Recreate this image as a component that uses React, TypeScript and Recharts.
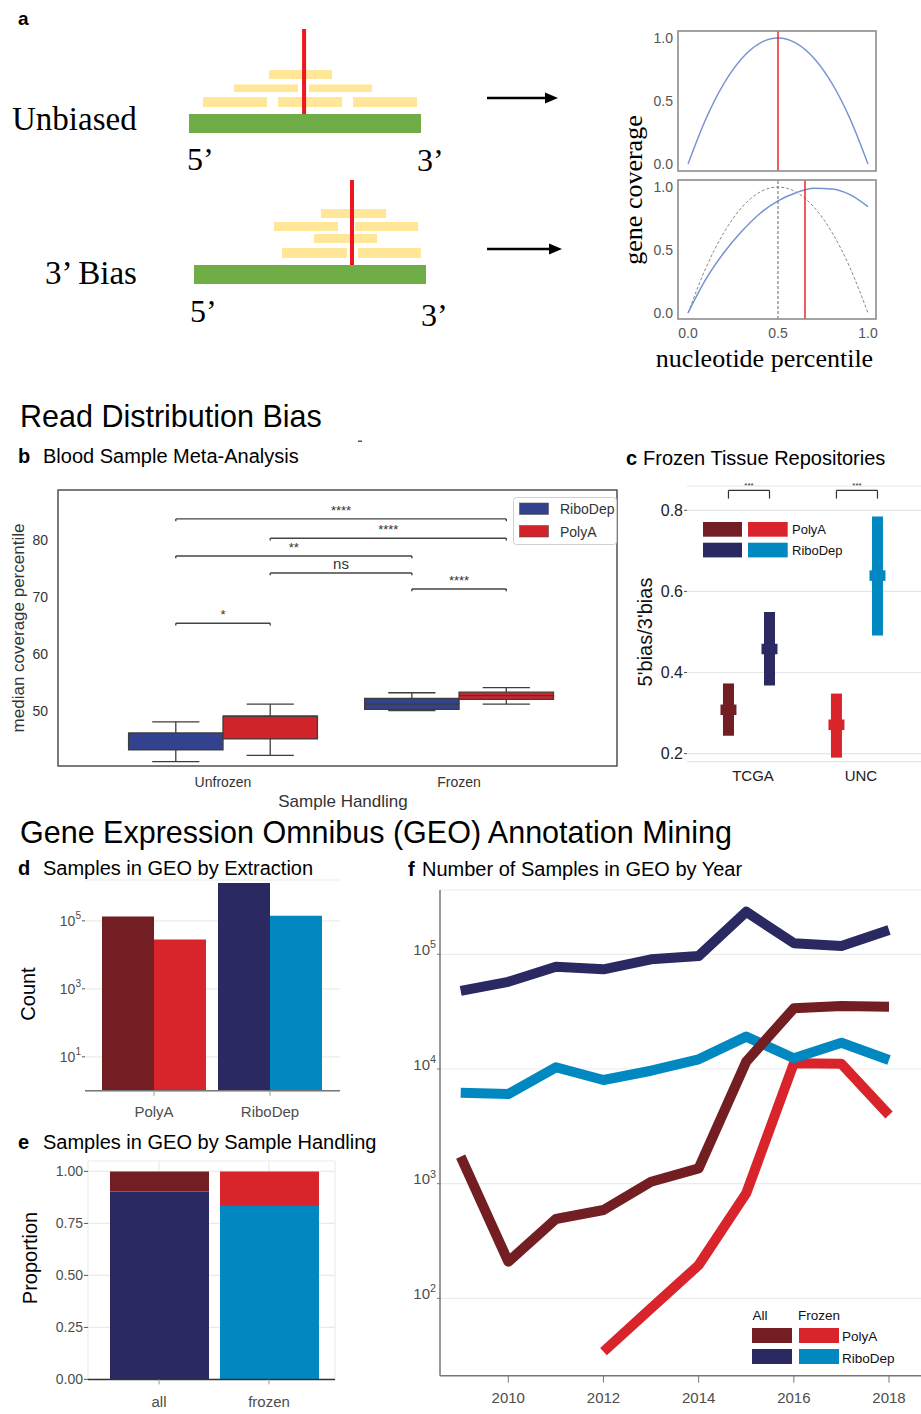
import React from 'react';
import {
  ComposedChart,
  LineChart,
  BarChart,
  Line,
  Bar,
  XAxis,
  YAxis,
  CartesianGrid,
  ReferenceArea,
  ReferenceLine,
  Cell,
} from 'recharts';

const SANS = "'Liberation Sans', Arial, Helvetica, sans-serif";
const SERIF = "'Liberation Serif', 'Times New Roman', Times, serif";

const DARKRED = '#721e23';
const RED = '#d9242b';
const NAVY = '#2a2962';
const BLUE = '#0288c1';
const B_BLUE = '#33428e';
const B_RED = '#d0232a';
const GENE_GREEN = '#70ad47';
const READ_YELLOW = '#ffe699';
const MARK_RED = '#f0161e';
const CURVE_BLUE = '#7594cf';
const TICK_GREY = '#4d4d4d';

// ---------- panel a : read diagrams (gene position in %, stack height in rows) ----------
const unbiasedReads = [
  { start: 34.5, end: 61.6, bottom: 2.5, top: 3.14 },
  { start: 19.4, end: 47.0, bottom: 1.57, top: 2.1 },
  { start: 51.7, end: 78.9, bottom: 1.57, top: 2.1 },
  { start: 6.0, end: 33.6, bottom: 0.5, top: 1.21 },
  { start: 38.4, end: 66.0, bottom: 0.5, top: 1.21 },
  { start: 70.7, end: 98.3, bottom: 0.5, top: 1.21 },
];
const unbiasedCenter = 49.6;
const biasReads = [
  { start: 54.7, end: 82.8, bottom: 3.36, top: 4.0 },
  { start: 34.5, end: 62.1, bottom: 2.43, top: 3.07 },
  { start: 69.4, end: 96.6, bottom: 2.43, top: 3.07 },
  { start: 51.7, end: 78.9, bottom: 1.57, top: 2.21 },
  { start: 37.9, end: 65.9, bottom: 0.5, top: 1.21 },
  { start: 70.7, end: 97.8, bottom: 0.5, top: 1.21 },
];
const biasCenter = 68.1;
const geneLength = 100;
const geneThickness = 1.36;
const markerHeight = 6.07;

// ---------- panel a : coverage curves ----------
const coverageX = [0, 0.1, 0.2, 0.3, 0.4, 0.5, 0.6, 0.7, 0.8, 0.9, 1.0];
const unbiasedCoverage = [0, 0.36, 0.64, 0.84, 0.96, 1.0, 0.96, 0.84, 0.64, 0.36, 0];
const biasedCoverage = [0, 0.27, 0.48, 0.65, 0.79, 0.89, 0.955, 0.99, 0.985, 0.94, 0.845];
const coverageTicks = [0, 0.5, 1];
const unbiasedMedian = 0.5;
const biasedMedian = 0.65;

// ---------- panel b ----------
const bGroups = ['Unfrozen', 'Frozen'];
const bRiboDep = [
  { lo: 41.1, q1: 43.2, med: 46.1, q3: 46.1, hi: 48.1 },
  { lo: 50.05, q1: 50.3, med: 51.2, q3: 52.2, hi: 53.2 },
];
const bPolyA = [
  { lo: 42.2, q1: 45.1, med: 49.1, q3: 49.1, hi: 51.2 },
  { lo: 51.2, q1: 52.05, med: 52.7, q3: 53.3, hi: 54.1 },
];
const bTicks = [50, 60, 70, 80];
// s: 0 = RiboDep, 1 = PolyA
const bBrackets = [
  { g1: 0, s1: 0, g2: 1, s2: 1, y: 83.7, label: '****' },
  { g1: 0, s1: 1, g2: 1, s2: 1, y: 80.3, label: '****' },
  { g1: 0, s1: 0, g2: 1, s2: 0, y: 77.2, label: '**' },
  { g1: 0, s1: 1, g2: 1, s2: 0, y: 74.2, label: 'ns' },
  { g1: 1, s1: 0, g2: 1, s2: 1, y: 71.4, label: '****' },
  { g1: 0, s1: 0, g2: 0, s2: 1, y: 65.4, label: '*' },
];

// ---------- panel c ----------
const cGroups = ['TCGA', 'UNC'];
const cPolyA = [
  { lo: 0.244, mid: 0.308, hi: 0.373 },
  { lo: 0.19, mid: 0.271, hi: 0.348 },
];
const cRiboDep = [
  { lo: 0.368, mid: 0.458, hi: 0.549 },
  { lo: 0.491, mid: 0.639, hi: 0.785 },
];
const cTicks = [0.2, 0.4, 0.6, 0.8];
const cBracketTop = 0.849;
const cBracketEnd = 0.829;
const cBracketLabel = '***';

// ---------- panel d ----------
const dCategories = ['PolyA', 'RiboDep'];
const dAll = [134000, 1290000];
const dFrozen = [28000, 140000];
const dTicks = [10, 1000, 100000];

// ---------- panel e ----------
const eCategories = ['all', 'frozen'];
const eRiboDep = [0.903, 0.834];
const ePolyA = [0.097, 0.166];
const eTicks = [0, 0.25, 0.5, 0.75, 1];

// ---------- panel f ----------
const fYears = [2009, 2010, 2011, 2012, 2013, 2014, 2015, 2016, 2017, 2018];
const fPolyAAll = [1720, 209, 492, 590, 1040, 1360, 11600, 33800, 35400, 34900];
const fRiboDepAll = [48000, 57600, 78000, 74000, 90400, 96600, 235000, 125000, 118000, 163000];
const fPolyAFrozen = [null, null, null, 34.3, 82, 195, 824, 11200, 11100, 3970];
const fRiboDepFrozen = [6210, 6050, 10350, 8020, 9660, 12150, 19150, 12400, 16950, 11970];
const fXTicks = [2010, 2012, 2014, 2016, 2018];
const fYTicks = [100, 1000, 10000, 100000];

// ---------- helpers ----------
function frame(px: number, py: number, pw: number, ph: number, yw = 0, xh = 0, pad = 10) {
  const width = pw + yw + 2 * pad;
  const height = ph + xh + 2 * pad;
  return {
    style: { position: 'absolute' as const, left: px - yw - pad, top: py - pad, width, height },
    width,
    height,
    margin: { top: pad, right: pad, bottom: pad, left: pad },
  };
}

const powTick = (fs: number, dy: string) => (props: any) => {
  const { x, y, payload } = props;
  const e = Math.round(Math.log10(payload.value));
  return (
    <text x={x} y={y} dy={dy} textAnchor="end" fontSize={fs} fontFamily={SANS} fill={TICK_GREY}>
      10
      <tspan fontSize={fs * 0.72} dy={-fs * 0.45}>
        {e}
      </tspan>
    </text>
  );
};

function ReadDiagram({ reads, center, px, py }: any) {
  const g = frame(px, py, 232, 126, 0, 0, 4);
  return (
    <div style={g.style}>
      <ComposedChart width={g.width} height={g.height} margin={g.margin} data={reads}>
        <XAxis type="number" dataKey="start" domain={[0, geneLength]} allowDataOverflow hide />
        <YAxis type="number" dataKey="top" domain={[-2, 7]} allowDataOverflow hide />
        <ReferenceArea x1={0} x2={geneLength} y1={-geneThickness} y2={0} fill={GENE_GREEN} fillOpacity={1} ifOverflow="visible" />
        {reads.map((r: any, i: number) => (
          <ReferenceArea key={i} x1={r.start} x2={r.end} y1={r.bottom} y2={r.top} fill={READ_YELLOW} fillOpacity={1} ifOverflow="visible" />
        ))}
        <ReferenceLine
          segment={[{ x: center, y: 0 }, { x: center, y: markerHeight }]}
          stroke={MARK_RED}
          strokeWidth={4}
          ifOverflow="visible"
        />
      </ComposedChart>
    </div>
  );
}

const coverageData = coverageX.map((x, i) => ({ x, unbiased: unbiasedCoverage[i], biased: biasedCoverage[i] }));

function CoverageTop() {
  const g = frame(678, 31, 198, 140, 36, 0, 8);
  return (
    <div style={g.style}>
      <LineChart width={g.width} height={g.height} margin={g.margin} data={coverageData}>
        <XAxis type="number" dataKey="x" domain={[-0.0557, 1.0446]} allowDataOverflow hide />
        <YAxis
          type="number"
          domain={[-0.0556, 1.0556]}
          allowDataOverflow
          ticks={coverageTicks}
          interval={0}
          width={36}
          axisLine={false}
          tickLine={false}
          tickSize={3}
          tickMargin={2}
          tickFormatter={(v: number) => v.toFixed(1)}
          tick={{ fontSize: 14, fill: '#555', fontFamily: SANS }}
        />
        <Line type="monotone" dataKey="unbiased" stroke={CURVE_BLUE} strokeWidth={1.4} dot={false} isAnimationActive={false} />
        <ReferenceLine x={unbiasedMedian} stroke={MARK_RED} strokeWidth={1.4} />
      </LineChart>
    </div>
  );
}

function CoverageBottom() {
  const g = frame(678, 180, 198, 139, 36, 26, 8);
  return (
    <div style={g.style}>
      <LineChart width={g.width} height={g.height} margin={g.margin} data={coverageData}>
        <XAxis
          type="number"
          dataKey="x"
          domain={[-0.0557, 1.0446]}
          allowDataOverflow
          ticks={coverageTicks}
          interval={0}
          height={26}
          axisLine={false}
          tickLine={false}
          tickSize={4}
          tickMargin={5}
          tickFormatter={(v: number) => v.toFixed(1)}
          tick={{ fontSize: 14, fill: '#555', fontFamily: SANS }}
        />
        <YAxis
          type="number"
          domain={[-0.0476, 1.0556]}
          allowDataOverflow
          ticks={coverageTicks}
          interval={0}
          width={36}
          axisLine={false}
          tickLine={false}
          tickSize={3}
          tickMargin={2}
          tickFormatter={(v: number) => v.toFixed(1)}
          tick={{ fontSize: 14, fill: '#555', fontFamily: SANS }}
        />
        <Line type="monotone" dataKey="unbiased" stroke="#8a8a8a" strokeWidth={1} strokeDasharray="3 2" dot={false} isAnimationActive={false} />
        <Line type="monotone" dataKey="biased" stroke={CURVE_BLUE} strokeWidth={1.5} dot={false} isAnimationActive={false} />
        <ReferenceLine x={unbiasedMedian} stroke="#666" strokeWidth={1} strokeDasharray="3 2" />
        <ReferenceLine x={biasedMedian} stroke={MARK_RED} strokeWidth={1.4} />
      </LineChart>
    </div>
  );
}

const bOff = [-0.2, 0.2];
const bPoints = [bRiboDep, bPolyA].flatMap((series, s) =>
  series.flatMap((st, gi) => [
    { x: gi + bOff[s], y: st.lo },
    { x: gi + bOff[s], y: st.hi },
  ])
);

function PanelB() {
  const g = frame(58, 490, 559, 276, 45, 30, 6);
  const hw = 0.2;
  const EDGE = '#3d3d3d';
  const elems: any[] = [];
  [bRiboDep, bPolyA].forEach((series, s) => {
    const fill = s === 0 ? B_BLUE : B_RED;
    series.forEach((st, gi) => {
      const c = gi + bOff[s];
      const cw = hw / 2;
      const k = `${s}-${gi}`;
      elems.push(
        <ReferenceLine key={k + 'wh'} segment={[{ x: c, y: st.q3 }, { x: c, y: st.hi }]} stroke={EDGE} strokeWidth={1.3} />,
        <ReferenceLine key={k + 'wl'} segment={[{ x: c, y: st.lo }, { x: c, y: st.q1 }]} stroke={EDGE} strokeWidth={1.3} />,
        <ReferenceLine key={k + 'ch'} segment={[{ x: c - cw, y: st.hi }, { x: c + cw, y: st.hi }]} stroke={EDGE} strokeWidth={1.3} />,
        <ReferenceLine key={k + 'cl'} segment={[{ x: c - cw, y: st.lo }, { x: c + cw, y: st.lo }]} stroke={EDGE} strokeWidth={1.3} />,
        <ReferenceArea key={k + 'box'} x1={c - hw} x2={c + hw} y1={st.q1} y2={st.q3} fill={fill} fillOpacity={1} stroke={EDGE} strokeWidth={1.3} />,
        <ReferenceLine key={k + 'med'} segment={[{ x: c - hw, y: st.med }, { x: c + hw, y: st.med }]} stroke={EDGE} strokeWidth={1.3} />
      );
    });
  });
  bBrackets.forEach((b, i) => {
    const x1 = b.g1 + bOff[b.s1];
    const x2 = b.g2 + bOff[b.s2];
    const drop = 0.4;
    elems.push(
      <ReferenceLine
        key={'br' + i}
        segment={[{ x: x1, y: b.y }, { x: x2, y: b.y }]}
        stroke="#444"
        strokeWidth={1.4}
        label={{ value: b.label, position: 'top', offset: 4, fontSize: b.label === 'ns' ? 15 : 13, fill: '#333', fontFamily: SANS }}
      />,
      <ReferenceLine key={'bl' + i} segment={[{ x: x1, y: b.y }, { x: x1, y: b.y - drop }]} stroke="#444" strokeWidth={1.4} />,
      <ReferenceLine key={'bm' + i} segment={[{ x: x2, y: b.y }, { x: x2, y: b.y - drop }]} stroke="#444" strokeWidth={1.4} />
    );
  });
  return (
    <div style={g.style}>
      <ComposedChart width={g.width} height={g.height} margin={g.margin} data={bPoints}>
        <XAxis
          type="number"
          dataKey="x"
          domain={[-0.699, 1.669]}
          allowDataOverflow
          ticks={[0, 1]}
          interval={0}
          height={30}
          axisLine={false}
          tickLine={false}
          tickSize={8}
          tickMargin={3}
          tickFormatter={(v: number) => bGroups[v]}
          tick={{ fontSize: 14, fill: '#333', fontFamily: SANS }}
        />
        <YAxis
          type="number"
          dataKey="y"
          domain={[40.35, 88.77]}
          allowDataOverflow
          ticks={bTicks}
          interval={0}
          width={45}
          axisLine={false}
          tickLine={false}
          tickSize={8}
          tickMargin={2}
          tick={{ fontSize: 14, fill: '#333', fontFamily: SANS }}
        />
        {elems}
      </ComposedChart>
    </div>
  );
}

const cOff = [-0.19, 0.19];
const cPoints = [cPolyA, cRiboDep].flatMap((series, s) =>
  series.flatMap((st, gi) => [
    { x: gi + cOff[s], y: st.lo },
    { x: gi + cOff[s], y: st.hi },
  ])
);

function PanelC() {
  const g = frame(687, 486.4, 234, 275.7, 40, 26, 6);
  const colors = [
    [DARKRED, NAVY],
    [RED, BLUE],
  ];
  const bw = 0.051;
  const cbw = 0.074;
  const ch = 0.013;
  const elems: any[] = [];
  [cPolyA, cRiboDep].forEach((series, s) => {
    series.forEach((st, gi) => {
      const c = gi + cOff[s];
      const col = colors[gi][s];
      elems.push(
        <ReferenceArea key={`r${s}${gi}`} x1={c - bw} x2={c + bw} y1={st.lo} y2={st.hi} fill={col} fillOpacity={1} />,
        <ReferenceArea key={`m${s}${gi}`} x1={c - cbw} x2={c + cbw} y1={st.mid - ch} y2={st.mid + ch} fill={col} fillOpacity={1} />
      );
    });
  });
  cGroups.forEach((_, gi) => {
    const x1 = gi + cOff[0];
    const x2 = gi + cOff[1];
    elems.push(
      <ReferenceLine
        key={'cb' + gi}
        segment={[{ x: x1, y: cBracketTop }, { x: x2, y: cBracketTop }]}
        stroke="#333"
        strokeWidth={1.2}
        label={{ value: cBracketLabel, position: 'top', offset: 2, fontSize: 8, fill: '#333', fontFamily: SANS }}
      />,
      <ReferenceLine key={'cl' + gi} segment={[{ x: x1, y: cBracketTop }, { x: x1, y: cBracketEnd }]} stroke="#333" strokeWidth={1.2} />,
      <ReferenceLine key={'cr' + gi} segment={[{ x: x2, y: cBracketTop }, { x: x2, y: cBracketEnd }]} stroke="#333" strokeWidth={1.2} />
    );
  });
  return (
    <div style={g.style}>
      <ComposedChart width={g.width} height={g.height} margin={g.margin} data={cPoints}>
        <CartesianGrid horizontal vertical={false} stroke="#e6e6e6" strokeWidth={1.2} />
        <XAxis
          type="number"
          dataKey="x"
          domain={[-0.574, 1.593]}
          allowDataOverflow
          ticks={[0, 1]}
          interval={0}
          height={26}
          axisLine={false}
          tickLine={false}
          tickSize={5}
          tickMargin={4}
          tickFormatter={(v: number) => cGroups[v]}
          tick={{ fontSize: 15, fill: '#222', fontFamily: SANS, dx: 4 }}
        />
        <YAxis
          type="number"
          dataKey="y"
          domain={[0.18, 0.86]}
          allowDataOverflow
          ticks={cTicks}
          interval={0}
          width={40}
          axisLine={false}
          tickLine={{ stroke: '#555' }}
          tickSize={3}
          tickMargin={1}
          tickFormatter={(v: number) => v.toFixed(1)}
          tick={{ fontSize: 16, fill: '#222', fontFamily: SANS }}
        />
        {elems}
      </ComposedChart>
    </div>
  );
}

const dData = dCategories.map((cat, i) => ({ cat, all: dAll[i], frozen: dFrozen[i] }));
const dAllColors = [DARKRED, NAVY];
const dFrozenColors = [RED, BLUE];

function PanelD() {
  const g = frame(85, 879.9, 255, 210.8, 40, 30, 6);
  return (
    <div style={g.style}>
      <BarChart width={g.width} height={g.height} margin={g.margin} data={dData} barGap={0}>
        <CartesianGrid horizontal vertical={false} stroke="#ebebe6" strokeWidth={1.2} />
        <XAxis
          dataKey="cat"
          padding={{ left: 11, right: 12 }}
          height={30}
          axisLine={{ stroke: '#777', strokeWidth: 1.5 }}
          tickLine={{ stroke: '#999' }}
          tickSize={5}
          tickMargin={11}
          interval={0}
          tick={{ fontSize: 15, fill: TICK_GREY, fontFamily: SANS }}
        />
        <YAxis
          type="number"
          scale="log"
          domain={[1, 1584893]}
          allowDataOverflow
          ticks={dTicks}
          interval={0}
          width={40}
          axisLine={false}
          tickLine={{ stroke: '#555' }}
          tickSize={3}
          tickMargin={1}
          tick={powTick(14, '0.35em')}
        />
        <Bar dataKey="all" barSize={52} isAnimationActive={false}>
          {dData.map((_, i) => (
            <Cell key={i} fill={dAllColors[i]} />
          ))}
        </Bar>
        <Bar dataKey="frozen" barSize={52} isAnimationActive={false}>
          {dData.map((_, i) => (
            <Cell key={i} fill={dFrozenColors[i]} />
          ))}
        </Bar>
      </BarChart>
    </div>
  );
}

const eData = eCategories.map((cat, i) => ({ cat, ribodep: eRiboDep[i], polya: ePolyA[i] }));
const eRiboColors = [NAVY, BLUE];
const ePolyColors = [DARKRED, RED];

function PanelE() {
  const g = frame(88, 1160.6, 247, 218.4, 40, 30, 6);
  return (
    <div style={g.style}>
      <BarChart width={g.width} height={g.height} margin={g.margin} data={eData}>
        <CartesianGrid stroke="#ebebe6" strokeWidth={1.2} />
        <XAxis
          dataKey="cat"
          padding={{ left: 16, right: 11 }}
          height={30}
          axisLine={{ stroke: '#333', strokeWidth: 1.5 }}
          tickLine={{ stroke: '#999' }}
          tickSize={5}
          tickMargin={12}
          interval={0}
          tick={{ fontSize: 15, fill: TICK_GREY, fontFamily: SANS }}
        />
        <YAxis
          type="number"
          domain={[0, 1.05]}
          allowDataOverflow
          ticks={eTicks}
          interval={0}
          width={40}
          axisLine={false}
          tickLine={{ stroke: '#555' }}
          tickSize={4}
          tickMargin={1}
          tickFormatter={(v: number) => v.toFixed(2)}
          tick={{ fontSize: 14, fill: TICK_GREY, fontFamily: SANS }}
        />
        <Bar dataKey="ribodep" stackId="s" barSize={99} isAnimationActive={false}>
          {eData.map((_, i) => (
            <Cell key={i} fill={eRiboColors[i]} />
          ))}
        </Bar>
        <Bar dataKey="polya" stackId="s" barSize={99} isAnimationActive={false}>
          {eData.map((_, i) => (
            <Cell key={i} fill={ePolyColors[i]} />
          ))}
        </Bar>
      </BarChart>
    </div>
  );
}

const fData = fYears.map((year, i) => ({
  year,
  polyAAll: fPolyAAll[i],
  riboDepAll: fRiboDepAll[i],
  polyAFrozen: fPolyAFrozen[i],
  riboDepFrozen: fRiboDepFrozen[i],
}));

function PanelF() {
  const g = frame(440, 890, 481, 485.7, 40, 30, 6);
  const lineProps = { type: 'linear' as const, strokeWidth: 10, dot: false, isAnimationActive: false, strokeLinecap: 'butt' as const, strokeLinejoin: 'round' as const };
  return (
    <div style={g.style}>
      <LineChart width={g.width} height={g.height} margin={g.margin} data={fData}>
        <CartesianGrid horizontal vertical={false} stroke="#ebebeb" strokeWidth={1.2} />
        <XAxis
          type="number"
          dataKey="year"
          domain={[2008.565, 2018.672]}
          allowDataOverflow
          ticks={fXTicks}
          interval={0}
          height={30}
          axisLine={{ stroke: '#777', strokeWidth: 1.5 }}
          tickLine={{ stroke: '#777' }}
          tickSize={7}
          tickMargin={10}
          tick={{ fontSize: 15, fill: TICK_GREY, fontFamily: SANS }}
        />
        <YAxis
          type="number"
          scale="log"
          domain={[21.18, 363700]}
          allowDataOverflow
          ticks={fYTicks}
          interval={0}
          width={40}
          axisLine={{ stroke: '#777', strokeWidth: 1.5 }}
          tickLine={{ stroke: '#777' }}
          tickSize={3}
          tickMargin={1}
          tick={powTick(15, '0.05em')}
        />
        <Line dataKey="polyAFrozen" stroke={RED} {...lineProps} />
        <Line dataKey="riboDepFrozen" stroke={BLUE} {...lineProps} />
        <Line dataKey="polyAAll" stroke={DARKRED} {...lineProps} />
        <Line dataKey="riboDepAll" stroke={NAVY} {...lineProps} />
      </LineChart>
    </div>
  );
}

function Overlay() {
  const t = (x: number, y: number, s: string, fs: number, extra: any = {}) => (
    <text x={x} y={y} fontSize={fs} fontFamily={SANS} fill="#111" {...extra}>
      {s}
    </text>
  );
  const serif = (x: number, y: number, s: string, fs: number, extra: any = {}) => (
    <text x={x} y={y} fontSize={fs} fontFamily={SERIF} fill="#000" {...extra}>
      {s}
    </text>
  );
  return (
    <svg width={921} height={1414} style={{ position: 'absolute', left: 0, top: 0, pointerEvents: 'none' }}>
      {/* panel a */}
      {t(18, 25, 'a', 19, { fontWeight: 'bold', fill: '#000' })}
      {serif(12, 130, 'Unbiased', 33)}
      {serif(187, 170, '5\u2019', 32)}
      {serif(417, 171, '3\u2019', 32)}
      {serif(45, 284, '3\u2019 Bias', 33)}
      {serif(190, 322, '5\u2019', 32)}
      {serif(421, 326, '3\u2019', 32)}
      <line x1={487} y1={98} x2={547} y2={98} stroke="#000" strokeWidth={2.6} />
      <polygon points="545,92.5 558,98 545,103.5" fill="#000" />
      <line x1={487} y1={249} x2={551} y2={249} stroke="#000" strokeWidth={2.6} />
      <polygon points="549,243.5 562,249 549,254.5" fill="#000" />
      <rect x={678} y={31} width={198} height={140} fill="none" stroke="#8c8c8c" strokeWidth={1.6} />
      <rect x={678} y={180} width={198} height={139} fill="none" stroke="#8c8c8c" strokeWidth={1.6} />
      <text transform="translate(633,190) rotate(-90)" textAnchor="middle" dy="0.35em" fontSize={26} fontFamily={SERIF} fill="#000">
        gene coverage
      </text>
      {serif(764.5, 367, 'nucleotide percentile', 26, { textAnchor: 'middle' })}

      {/* section 1 */}
      {t(20, 427, 'Read Distribution Bias', 30.5, { fill: '#000' })}
      {t(18, 463, 'b', 20, { fontWeight: 'bold', fill: '#000' })}
      {t(43, 463, 'Blood Sample Meta-Analysis', 20, { fill: '#000' })}
      <rect x={358} y={440.5} width={4} height={1.5} fill="#555" />
      <rect x={58} y={490} width={559} height={276} fill="none" stroke="#444" strokeWidth={1.4} />
      <text transform="translate(18,628) rotate(-90)" textAnchor="middle" dy="0.35em" fontSize={17} fontFamily={SANS} fill="#333">
        median coverage percentile
      </text>
      {t(343, 806.5, 'Sample Handling', 17, { textAnchor: 'middle', fill: '#333' })}
      <rect x={513.5} y={497.5} width={103} height={47} rx={3} fill="#fff" fillOpacity={0.85} stroke="#d0d0d0" />
      <rect x={519.5} y={503} width={29} height={11.5} fill={B_BLUE} stroke="#555" strokeWidth={0.6} />
      {t(560, 514, 'RiboDep', 14, { fill: '#333' })}
      <rect x={519.5} y={525.5} width={29} height={11.5} fill={B_RED} stroke="#555" strokeWidth={0.6} />
      {t(560, 536.5, 'PolyA', 14, { fill: '#333' })}

      {t(626, 465, 'c', 20, { fontWeight: 'bold', fill: '#000' })}
      {t(643, 465, 'Frozen Tissue Repositories', 20, { fill: '#000' })}
      <text transform="translate(645,632) rotate(-90)" textAnchor="middle" dy="0.35em" fontSize={20} fontFamily={SANS} fill="#111">
        5'bias/3'bias
      </text>
      <rect x={703} y={522} width={39} height={14.7} fill={DARKRED} />
      <rect x={748} y={522} width={39.7} height={14.7} fill={RED} />
      <rect x={703} y={542.7} width={39} height={14.7} fill={NAVY} />
      <rect x={748} y={542.7} width={39.7} height={14.7} fill={BLUE} />
      {t(792, 533.5, 'PolyA', 13)}
      {t(792, 554.5, 'RiboDep', 13)}

      {/* section 2 */}
      {t(20, 843, 'Gene Expression Omnibus (GEO) Annotation Mining', 30.5, { fill: '#000' })}
      {t(18, 875, 'd', 20, { fontWeight: 'bold', fill: '#000' })}
      {t(43, 875, 'Samples in GEO by Extraction', 20, { fill: '#000' })}
      <text transform="translate(28,994) rotate(-90)" textAnchor="middle" dy="0.35em" fontSize={20} fontFamily={SANS} fill="#000">
        Count
      </text>
      {t(18, 1149, 'e', 20, { fontWeight: 'bold', fill: '#000' })}
      {t(43, 1149, 'Samples in GEO by Sample Handling', 20, { fill: '#000' })}
      <text transform="translate(30,1258) rotate(-90)" textAnchor="middle" dy="0.35em" fontSize={20} fontFamily={SANS} fill="#000">
        Proportion
      </text>
      {t(408, 876, 'f', 20, { fontWeight: 'bold', fill: '#000' })}
      {t(422, 876, 'Number of Samples in GEO by Year', 20, { fill: '#000' })}
      {t(752.5, 1320, 'All', 13.5)}
      {t(798, 1320, 'Frozen', 13.5)}
      <rect x={752} y={1328} width={40} height={15} fill={DARKRED} />
      <rect x={799} y={1328} width={40} height={15} fill={RED} />
      <rect x={752} y={1349} width={40} height={15} fill={NAVY} />
      <rect x={799} y={1349} width={40} height={15} fill={BLUE} />
      {t(842, 1341, 'PolyA', 13.5)}
      {t(842, 1363, 'RiboDep', 13.5)}
    </svg>
  );
}

export default function App() {
  return (
    <div style={{ position: 'absolute', left: 0, top: 0, width: 921, height: 1414, background: '#fff', overflow: 'hidden', fontFamily: SANS }}>
      <ReadDiagram reads={unbiasedReads} center={unbiasedCenter} px={189} py={16} />
      <ReadDiagram reads={biasReads} center={biasCenter} px={194} py={167} />
      <CoverageTop />
      <CoverageBottom />
      <PanelB />
      <PanelC />
      <PanelD />
      <PanelE />
      <PanelF />
      <Overlay />
    </div>
  );
}
